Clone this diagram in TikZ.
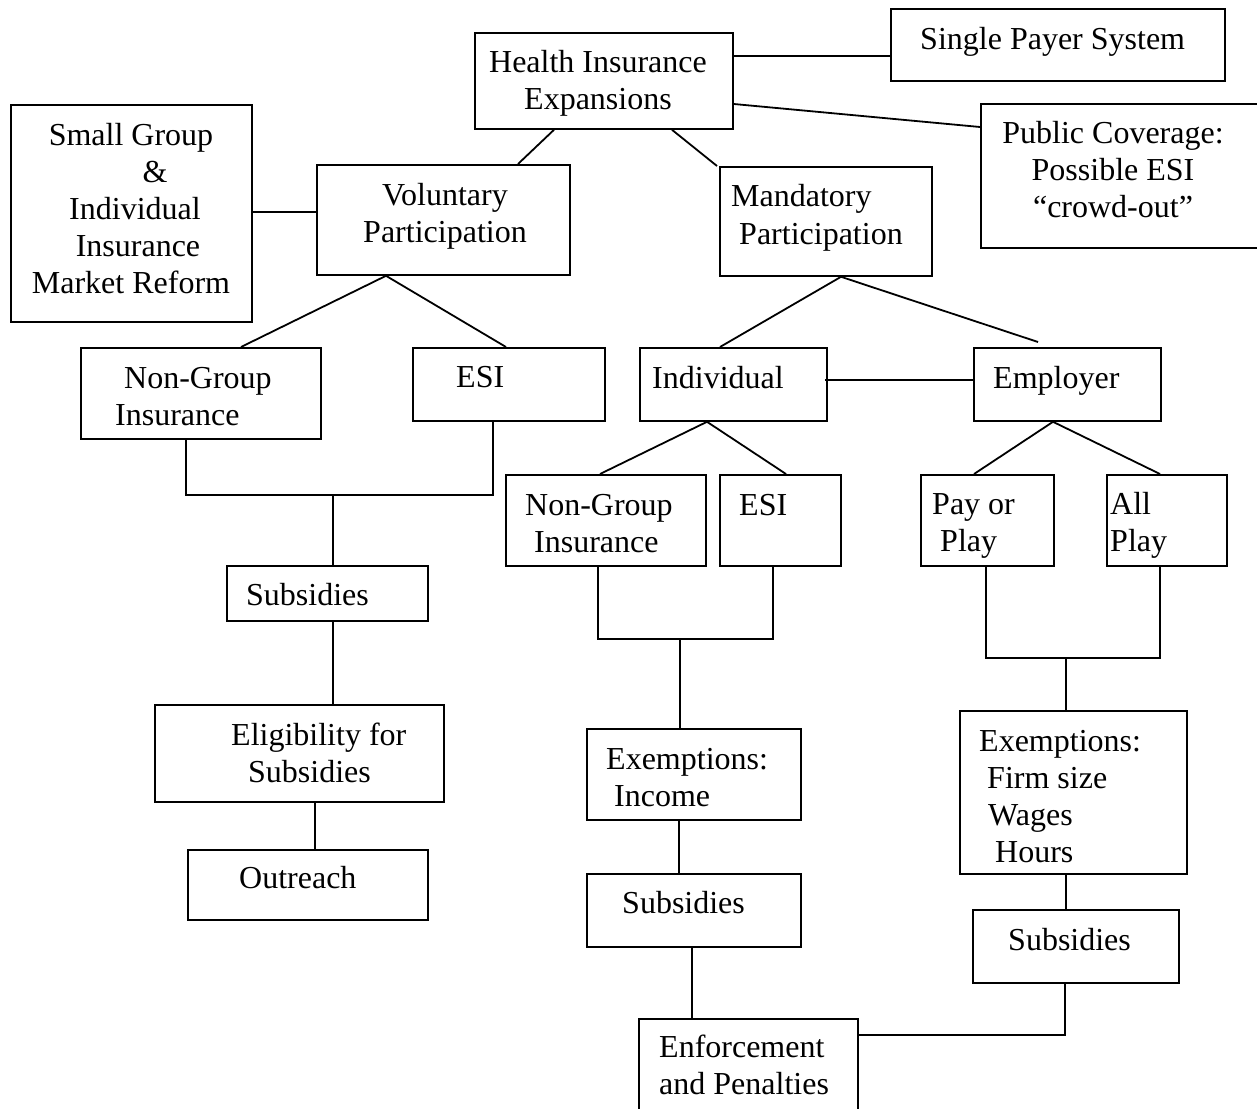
\documentclass[tikz,border=0pt]{standalone}
\usepackage{fontspec}
\setmainfont{Liberation Serif}
\usetikzlibrary{calc}
\newcommand{\fstrut}{\rule{0pt}{25pt}}
\begin{document}
\begin{tikzpicture}[x=1pt,y=-1pt,
  box/.style={draw=black,line width=1.8pt,inner sep=0pt,anchor=north west,fill=white},
  txt/.style={inner sep=0pt,font=\fontsize{32}{37}\selectfont,text=black},
  txl/.style={txt,anchor=north west,align=left},
  txc/.style={txt,anchor=north,align=center},
  conn/.style={draw=black,line width=1.8pt}]
\useasboundingbox (0,0) rectangle (1257,1108);
\fill[white] (0,0) rectangle (1257,1108);
\clip (0,0) rectangle (1257,1108);
% boxes
\node[box,minimum width=258pt,minimum height=96pt] (health) at (474,32) {};
\node[box,minimum width=334pt,minimum height=72pt] (single) at (890,8) {};
\node[box,minimum width=282pt,minimum height=144pt] (public) at (980,103) {};
\node[box,minimum width=241pt,minimum height=217pt] (small) at (10,104) {};
\node[box,minimum width=253pt,minimum height=110pt] (vol) at (316,164) {};
\node[box,minimum width=212pt,minimum height=109pt] (mand) at (719,166) {};
\node[box,minimum width=240pt,minimum height=91pt] (ngL) at (80,347) {};
\node[box,minimum width=192pt,minimum height=73pt] (esiL) at (412,347) {};
\node[box,minimum width=187pt,minimum height=73pt] (indiv) at (639,347) {};
\node[box,minimum width=187pt,minimum height=73pt] (empl) at (973,347) {};
\node[box,minimum width=200pt,minimum height=91pt] (ngM) at (505,474) {};
\node[box,minimum width=121pt,minimum height=91pt] (esiM) at (719,474) {};
\node[box,minimum width=133pt,minimum height=91pt] (pop) at (920,474) {};
\node[box,minimum width=120pt,minimum height=91pt] (allplay) at (1106,474) {};
\node[box,minimum width=201pt,minimum height=55pt] (subsL) at (226,565) {};
\node[box,minimum width=289pt,minimum height=97pt] (elig) at (154,704) {};
\node[box,minimum width=240pt,minimum height=70pt] (outreach) at (187,849) {};
\node[box,minimum width=214pt,minimum height=91pt] (exmI) at (586,728) {};
\node[box,minimum width=214pt,minimum height=73pt] (subsM) at (586,873) {};
\node[box,minimum width=219pt,minimum height=96pt] (enf) at (638,1018) {};
\node[box,minimum width=227pt,minimum height=163pt] (exmF) at (959,710) {};
\node[box,minimum width=206pt,minimum height=73pt] (subsR) at (972,909) {};
% texts
\node[txc] (tHealth) at (598,47) {\fstrut Health Insurance\\Expansions};
\node[txl] (tSingle) at (920,24) {\fstrut Single Payer System};
\node[txc] (tPublic) at (1113,118) {\fstrut Public Coverage:\\Possible ESI\\``crowd-out''};
\node[txc] (tSmall) at (131,120) {\fstrut Small Group\\\hspace*{48pt}\&\\\hspace*{8pt}Individual\\\hspace*{14pt}Insurance\\Market Reform};
\node[txc] (tVol) at (445,180) {\fstrut Voluntary\\Participation};
\node[txl] (tMand) at (731,181) {\fstrut Mandatory\\[1pt]\hspace*{8pt}Participation};
\node[txl] (tNgL) at (115,363) {\fstrut\hspace*{9pt}Non-Group\\Insurance};
\node[txl] (tEsiL) at (456,362) {\fstrut ESI};
\node[txl] (tIndiv) at (652,363) {\fstrut Individual};
\node[txl] (tEmpl) at (993,363) {\fstrut Employer};
\node[txl] (tNgM) at (525,490) {\fstrut Non-Group\\\hspace*{9pt}Insurance};
\node[txl] (tEsiM) at (739,490) {\fstrut ESI};
\node[txl] (tPop) at (932,489) {\fstrut Pay or\\\hspace*{8pt}Play};
\node[txl] (tAll) at (1110,489) {\fstrut All\\Play};
\node[txl] (tSubsL) at (246,580) {\fstrut Subsidies};
\node[txl] (tElig) at (231,720) {\fstrut Eligibility for\\\hspace*{17pt}Subsidies};
\node[txl] (tOut) at (239,863) {\fstrut Outreach};
\node[txl] (tExmI) at (606,744) {\fstrut Exemptions:\\\hspace*{8pt}Income};
\node[txl] (tSubsM) at (622,888) {\fstrut Subsidies};
\node[txl] (tEnf) at (659,1032) {\fstrut Enforcement\\and Penalties};
\node[txl] (tExmF) at (979,726) {\fstrut Exemptions:\\\hspace*{8pt}Firm size\\\hspace*{9pt}Wages\\\hspace*{16pt}Hours};
\node[txl] (tSubsR) at (1008,925) {\fstrut Subsidies};
% connectors
\draw[conn] ($(health.north east)+(0,24)$) -- ($(single.north west)+(0,48)$);
\draw[conn] ($(health.north east)+(0,72)$) -- ($(public.north west)+(0,24)$);
\draw[conn] ($(health.south west)+(80,0)$) -- ($(vol.north west)+(202,0)$);
\draw[conn] ($(health.south west)+(198,0)$) -- ($(mand.north west)+(-2,0)$);
\draw[conn] ($(small.north east)+(0,108)$) -- ($(vol.north west)+(0,48)$);
\draw[conn] ($(vol.south west)+(70,0)$) -- ($(ngL.north west)+(161,0)$);
\draw[conn] ($(vol.south west)+(70,0)$) -- ($(esiL.north west)+(94,0)$);
\draw[conn] ($(mand.south west)+(122,0)$) -- ($(indiv.north west)+(81,0)$);
\draw[conn] ($(mand.south west)+(122,0)$) -- ($(empl.north west)+(65,-5)$);
\draw[conn] ($(indiv.north east)+(-3,33)$) -- ($(empl.north west)+(0,33)$);
\draw[conn] ($(indiv.south west)+(68,0)$) -- ($(ngM.north west)+(95,0)$);
\draw[conn] ($(indiv.south west)+(68,0)$) -- ($(esiM.north west)+(67,0)$);
\draw[conn] ($(empl.south west)+(80,0)$) -- ($(pop.north west)+(54,0)$);
\draw[conn] ($(empl.south west)+(80,0)$) -- ($(allplay.north west)+(54,0)$);
% left bracket
\coordinate (jL) at ($(ngL.south west)+(253,55)$);
\draw[conn] ($(ngL.south west)+(106,0)$) -- ++(0,55) -| ($(esiL.south west)+(81,0)$);
\draw[conn] (jL) -- (jL |- subsL.north);
\draw[conn] ($(subsL.south west)+(107,0)$) -- ($(elig.north west)+(179,0)$);
\draw[conn] ($(elig.south west)+(161,0)$) -- ($(outreach.north west)+(128,0)$);
% middle bracket
\coordinate (jM) at ($(ngM.south west)+(175,72)$);
\draw[conn] ($(ngM.south west)+(93,0)$) -- ++(0,72) -| ($(esiM.south west)+(54,0)$);
\draw[conn] (jM) -- (jM |- exmI.north);
\draw[conn] ($(exmI.south west)+(93,0)$) -- ($(subsM.north west)+(93,0)$);
\draw[conn] ($(subsM.south west)+(106,0)$) -- ($(enf.north west)+(54,0)$);
% right bracket
\coordinate (jR) at ($(pop.south west)+(146,91)$);
\draw[conn] ($(pop.south west)+(66,0)$) -- ++(0,91) -| ($(allplay.south west)+(54,0)$);
\draw[conn] (jR) -- (jR |- exmF.north);
\draw[conn] ($(exmF.south west)+(107,0)$) -- ($(subsR.north west)+(94,0)$);
\draw[conn] ($(subsR.south west)+(93,0)$) |- ($(enf.north east)+(0,17)$);
\end{tikzpicture}
\end{document}
